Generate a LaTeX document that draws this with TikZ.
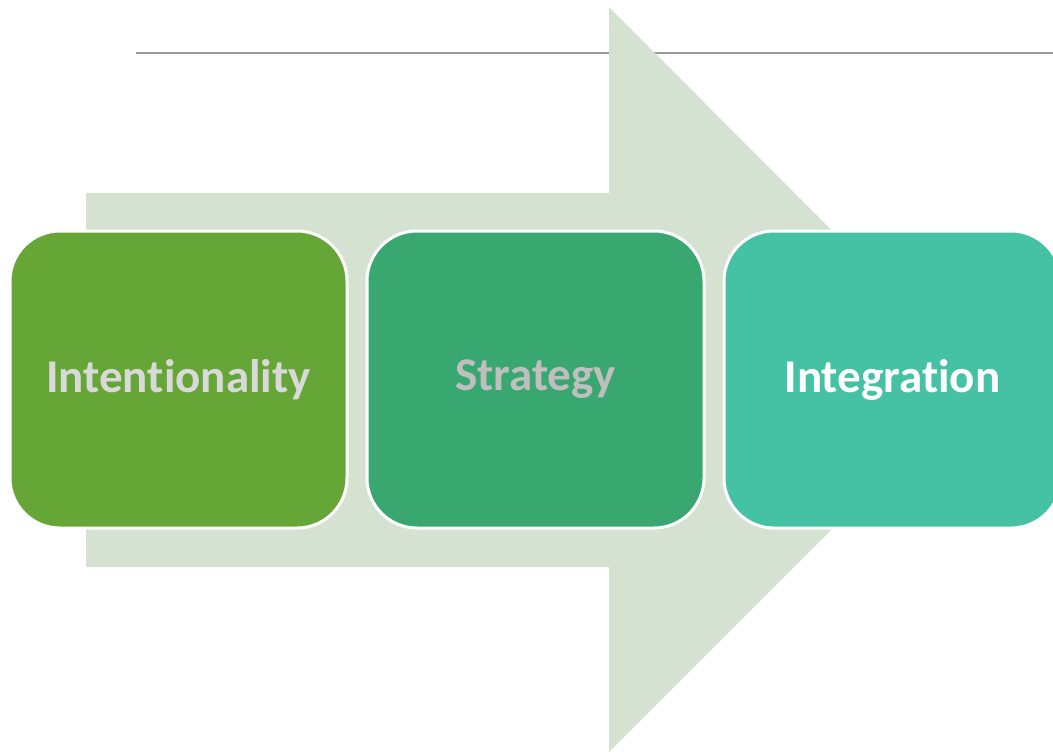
\documentclass[tikz,border=0pt]{standalone}
\usepackage{fontspec}
\setmainfont[Ligatures=NoCommon]{Carlito}
\usepackage{xcolor}
\usetikzlibrary{positioning}

\definecolor{arrowgreen}{HTML}{D5E2D1}
\definecolor{leafgreen}{HTML}{65A637}
\definecolor{midgreen}{HTML}{38A870}
\definecolor{tealgreen}{HTML}{45C1A3}
\definecolor{rulegray}{HTML}{9A9A9A}

\tikzset{
  stage/.style={draw=white, line width=3pt, rounded corners=50pt,
    minimum width=337pt, minimum height=297pt, inner sep=0pt,
    font=\fontsize{47}{56}\selectfont\bfseries}
}

\begin{document}
\begin{tikzpicture}[x=1pt, y=-1pt, node distance=17pt]
\useasboundingbox (0,0) rectangle (1053,753);

% Rule at the top
\draw[rulegray, line width=1.5pt] (136,53) -- (1053,53);

% Big background arrow
\fill[arrowgreen] (86,193) -- (609,193) -- (609,7) -- (981,380)
  -- (609,752) -- (609,567) -- (86,567) -- cycle;

% Stages
\node[stage, fill=leafgreen, text=black!15] (intent) at (178.5,379.5) {Intentionality};
\node[stage, fill=midgreen, text=black!25, right=of intent] (strat) {Strategy};
\node[stage, fill=tealgreen, text=white, right=of strat] (integ) {Integration};
\end{tikzpicture}
\end{document}
